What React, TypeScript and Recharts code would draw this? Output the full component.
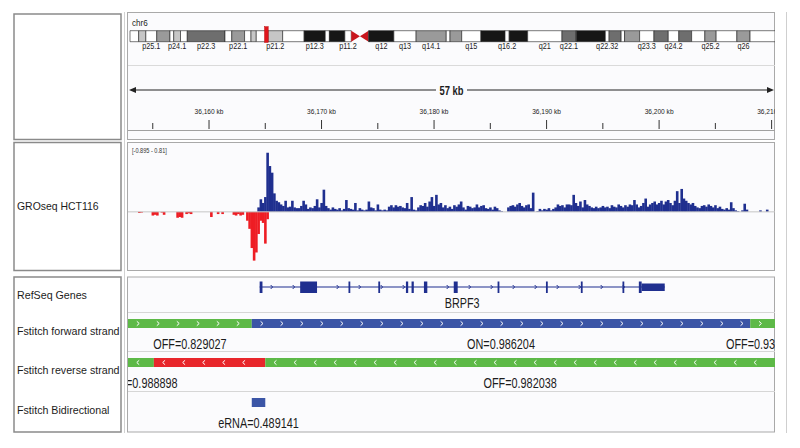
import React from "react"
import {
  ComposedChart,
  BarChart,
  Bar,
  XAxis,
  YAxis,
  ReferenceArea,
  ReferenceLine,
} from "recharts"

const FONT = '"Liberation Sans", Arial, Helvetica, sans-serif'

// ---------- data ----------

// visible window on chr6, in kb
const viewKb: [number, number] = [36152.8, 36210.3]
const rulerTicksKb = [36155, 36160, 36165, 36170, 36175, 36180, 36185, 36190, 36195, 36200, 36205, 36210]
const locusMb: [number, number] = [36.1528, 36.2103]
const chr6LengthMb = 171.115

// chr6 cytobands: name, start Mb, end Mb, stain
const chr6Bands: [string, number, number, string][] = [
  ["p25.3", 0, 2.3, "gneg"], ["p25.2", 2.3, 4.2, "gpos25"], ["p25.1", 4.2, 7.1, "gneg"],
  ["p24.3", 7.1, 10.6, "gpos50"], ["p24.2", 10.6, 11.6, "gneg"], ["p24.1", 11.6, 13.4, "gpos25"],
  ["p23", 13.4, 15.2, "gneg"], ["p22.3", 15.2, 25.2, "gpos75"], ["p22.2", 25.2, 27.0, "gneg"],
  ["p22.1", 27.0, 30.4, "gpos50"], ["p21.33", 30.4, 32.1, "gneg"], ["p21.32", 32.1, 33.5, "gpos25"],
  ["p21.31", 33.5, 36.6, "gneg"], ["p21.2", 36.6, 40.5, "gpos25"], ["p21.1", 40.5, 46.2, "gneg"],
  ["p12.3", 46.2, 51.8, "gpos100"], ["p12.2", 51.8, 52.9, "gneg"], ["p12.1", 52.9, 57.0, "gpos100"],
  ["p11.2", 57.0, 58.7, "gneg"], ["p11.1", 58.7, 61.0, "acen"], ["q11.1", 61.0, 63.3, "acen"],
  ["q11.2", 63.3, 63.4, "gneg"], ["q12", 63.4, 70.0, "gpos100"], ["q13", 70.0, 75.9, "gneg"],
  ["q14.1", 75.9, 83.9, "gpos50"], ["q14.2", 83.9, 84.9, "gneg"], ["q14.3", 84.9, 88.0, "gpos50"],
  ["q15", 88.0, 93.1, "gneg"], ["q16.1", 93.1, 99.5, "gpos100"], ["q16.2", 99.5, 100.6, "gneg"],
  ["q16.3", 100.6, 105.5, "gpos100"], ["q21", 105.5, 114.6, "gneg"], ["q22.1", 114.6, 118.3, "gpos75"],
  ["q22.2", 118.3, 118.5, "gneg"], ["q22.31", 118.5, 126.1, "gpos100"], ["q22.32", 126.1, 127.1, "gneg"],
  ["q22.33", 127.1, 130.3, "gpos75"], ["q23.1", 130.3, 131.2, "gneg"], ["q23.2", 131.2, 135.2, "gpos50"],
  ["q23.3", 135.2, 139.0, "gneg"], ["q24.1", 139.0, 142.8, "gpos75"], ["q24.2", 142.8, 145.6, "gneg"],
  ["q24.3", 145.6, 149.0, "gpos75"], ["q25.1", 149.0, 152.5, "gneg"], ["q25.2", 152.5, 155.5, "gpos50"],
  ["q25.3", 155.5, 161.0, "gneg"], ["q26", 161.0, 164.5, "gpos50"], ["q27", 164.5, 171.115, "gneg"],
]
const bandLabels = [
  "p25.1", "p24.1", "p22.3", "p22.1", "p21.2", "p12.3", "p11.2", "q12", "q13", "q14.1",
  "q15", "q16.2", "q21", "q22.1", "q22.32", "q23.3", "q24.2", "q25.2", "q26",
]

// GROseq HCT116 signal, 0.2 kb bins
const groBinKb = 0.2
const groPlusStartKb = 36164.0
const groPlus = [
  0, 0, 0.06, 0.17, 0.12, 0.2, 0.8, 0.62, 0.53, 0.25,
  0.15, 0.13, 0.1, 0.08, 0.15, 0.06, 0.07, 0.15, 0.06, 0.05,
  0.05, 0.08, 0.15, 0.1, 0.04, 0.06, 0.05, 0.08, 0.17, 0.06,
  0.12, 0.3, 0.08, 0.05, 0.03, 0.06, 0.04, 0.03, 0.05, 0.02,
  0.04, 0.16, 0.05, 0.04, 0.03, 0.12, 0.02, 0.05, 0.03, 0.02,
  0.03, 0.14, 0.06, 0.05, 0.02, 0.1, 0.03, 0.02, 0.03, 0.02,
  0.07, 0.09, 0.06, 0.09, 0.07, 0.08, 0.06, 0.05, 0.12, 0.04,
  0.2, 0.03, 0.02, 0.06, 0.09, 0.08, 0.12, 0.07, 0.14, 0.2,
  0.08, 0.23, 0.1, 0.12, 0.06, 0.09, 0.05, 0.07, 0.04, 0.09,
  0.07, 0.1, 0.14, 0.06, 0.03, 0.08, 0.07, 0.05, 0.06, 0.1,
  0.06, 0.08, 0.09, 0.05, 0.04, 0.06, 0.03, 0.07, 0.05, 0.02,
  0.01, 0, 0, 0.06, 0.08, 0.09, 0.07, 0.1, 0.12, 0.08,
  0.06, 0.09, 0.1, 0.05, 0.26, 0, 0.01, 0.04, 0.02, 0.04,
  0.03, 0.05, 0.02, 0.04, 0.06, 0.1, 0.08, 0.09, 0.06, 0.1,
  0.1, 0.09, 0.23, 0.12, 0.08, 0.14, 0.06, 0.16, 0.1, 0.08,
  0.06, 0.05, 0.07, 0.05, 0.06, 0.08, 0.06, 0.07, 0.05, 0.09,
  0.07, 0.06, 0.1, 0.08, 0.06, 0.09, 0.07, 0.1, 0.09, 0.16,
  0.1, 0.06, 0.08, 0.12, 0.18, 0.07, 0.1, 0.12, 0.14, 0.1,
  0.12, 0.15, 0.1, 0.14, 0.16, 0.12, 0.09, 0.15, 0.28, 0.12,
  0.31, 0.18, 0.15, 0.12, 0.1, 0.12, 0.08, 0.06, 0.05, 0.08,
  0.09, 0.07, 0.1, 0.08, 0.06, 0.09, 0.05, 0.07, 0.04, 0.03,
  0.05, 0.03, 0.13, 0.05, 0.02, 0.01, 0, 0.02, 0.11, 0.03,
  0, 0, 0, 0, 0, 0.02, 0, 0, 0.03, 0,
]
const groMinusStartKb = 36153.0
const groMinus = [
  0, 0, 0, 0, -0.015, -0.01, 0, 0, 0, 0,
  -0.05, -0.04, -0.05, 0, -0.01, -0.04, 0, 0, 0, 0,
  0, -0.08, -0.07, -0.08, 0, -0.03, -0.02, -0.03, 0, 0,
  0, 0, 0, 0, 0, 0, -0.07, 0, 0, -0.03,
  0, -0.03, 0, 0, 0, 0, -0.04, -0.05, -0.03, -0.05,
  -0.04, 0, -0.12, -0.23, -0.49, -0.66, -0.55, -0.3, -0.12, -0.15,
  -0.43, -0.1,
]
const groRangeLabel = "[-0.895 - 0.81]"
const groDomain: [number, number] = [-0.76, 0.81]

// RefSeq BRPF3 (kb)
const brpf3Name = "BRPF3"
const brpf3Span: [number, number] = [36164.5, 36200.5]
const brpf3Exons: [number, number, "utr" | "cds"][] = [
  [36164.5, 36164.75, "cds"], [36168.1, 36169.6, "cds"], [36172.4, 36172.55, "cds"],
  [36175.05, 36175.2, "cds"], [36177.5, 36177.7, "cds"], [36178.0, 36178.2, "cds"],
  [36179.1, 36179.4, "cds"], [36181.75, 36182.1, "cds"], [36185.65, 36185.8, "cds"],
  [36189.95, 36190.1, "cds"], [36193.05, 36193.2, "cds"], [36196.75, 36196.9, "cds"],
  [36198.2, 36198.45, "cds"], [36198.45, 36200.5, "utr"],
]

// Fstitch segments: start kb, end kb, state, label
const fwdSegments: [number, number, string, string][] = [
  [36148.0, 36163.8, "OFF", "OFF=0.829027"],
  [36163.8, 36208.1, "ON", "ON=0.986204"],
  [36208.1, 36213.0, "OFF", "OFF=0.933217"],
]
const revSegments: [number, number, string, string][] = [
  [36149.0, 36155.1, "OFF", "OFF=0.988898"],
  [36155.1, 36165.0, "ON", ""],
  [36165.0, 36214.0, "OFF", "OFF=0.982038"],
]
const bidirSegments: [number, number, string, string][] = [
  [36163.8, 36165.0, "eRNA", "eRNA=0.489141"],
]

const trackNames = ["RefSeq Genes", "Fstitch forward strand", "Fstitch reverse strand", "Fstitch Bidirectional"]

// ---------- style ----------

const DATA_X = 128
const DATA_W = 647
const stainFill: Record<string, string> = {
  gneg: "#ffffff", gpos25: "#c6c6c6", gpos50: "#9a9a9a", gpos75: "#6e6e6e", gpos100: "#161616", acen: "#c8161d",
}
const NAVY = "#1f2f8f"
const GRO_RED = "#ee1d24"
const FS_GREEN = "#5db947"
const FS_BLUE = "#3b55a6"
const FS_RED = "#e8262b"
const TXT = "#1c1c1c"
const GRO_BAR_W = 2.6

// row layout inside the feature panel (px from its top)
const GENE_Y = 10
const FWD_Y = 42
const REV_Y = 81
const BIDIR_Y = 121
const SEG_H = 9
const SEG_LABEL_DY = 29.5

// ---------- helpers ----------

let measureCtx: CanvasRenderingContext2D | null = null
function textWidth(s: string, size: number, weight = "normal") {
  if (!measureCtx) measureCtx = document.createElement("canvas").getContext("2d")
  if (!measureCtx) return s.length * size * 0.55
  measureCtx.font = `${weight} ${size}px ${FONT}`
  return measureCtx.measureText(s).width
}

function Label(props: {
  x: number; y: number; text: string; size: number; squeeze?: number
  anchor?: "start" | "middle" | "end"; weight?: string; fill?: string
}) {
  const { x, y, text, size, squeeze = 1, anchor = "start", weight = "normal", fill = TXT } = props
  if (!text) return null
  return (
    <text
      x={x} y={y} fontFamily={FONT} fontSize={size} fontWeight={weight} fill={fill}
      textAnchor={anchor} textLength={textWidth(text, size, weight) * squeeze} lengthAdjust="spacingAndGlyphs"
    >
      {text}
    </text>
  )
}

const fmtKb = (v: number) => `${v.toLocaleString("en-US")} kb`

const groRows = (() => {
  const m = new Map<number, { kb: number; plus: number; minus: number }>()
  const get = (kb: number) => {
    const k = Math.round(kb * 10) / 10
    if (!m.has(k)) m.set(k, { kb: k, plus: 0, minus: 0 })
    return m.get(k)!
  }
  groPlus.forEach((v, i) => { get(groPlusStartKb + i * groBinKb).plus = v })
  groMinus.forEach((v, i) => { get(groMinusStartKb + i * groBinKb).minus = v })
  return [...m.values()].sort((a, b) => a.kb - b.kb)
})()

// bar drawn at a fixed pixel width around the centre the library computed
const groBar = (fill: string) => (p: any) => {
  const h = Number(p.height) || 0
  if (!h) return <g />
  const y = Math.min(p.y, p.y + h)
  const cx = p.x + p.width / 2
  return <rect x={cx - GRO_BAR_W / 2} y={y} width={GRO_BAR_W} height={Math.abs(h)} fill={fill} />
}

// ---------- pieces ----------

function Frame() {
  const panels = [
    [14, 139.5],
    [142.5, 270.5],
    [277, 432],
  ]
  return (
    <svg width={800} height={448} style={{ position: "absolute", left: 0, top: 0 }}>
      {panels.map(([t, b], i) => (
        <g key={i}>
          <rect x={14} y={t} width={107} height={b - t} fill="#ffffff" stroke="#8a8a8a" strokeWidth={1.5} />
          <rect x={127.5} y={i === 0 ? 12.5 : t} width={647} height={b - (i === 0 ? 12.5 : t)} fill="#fbfbfd" stroke="#a9a9a9" strokeWidth={1} />
        </g>
      ))}
      <line x1={124.5} x2={124.5} y1={12} y2={433} stroke="#d2d2d2" />
      <line x1={786.5} x2={786.5} y1={12} y2={433} stroke="#cfcfcf" />
      <line x1={128} x2={775} y1={65.5} y2={65.5} stroke="#dadada" />
      <line x1={128} x2={775} y1={130.5} y2={130.5} stroke="#a0a0a0" />
      {[312.5, 351.5, 391.5].map((y) => (
        <line key={y} x1={128} x2={775} y1={y} y2={y} stroke="#d6d6d6" />
      ))}

      {/* span arrow */}
      <line x1={134} x2={436} y1={90} y2={90} stroke="#222" strokeWidth={1.2} />
      <line x1={467} x2={769} y1={90} y2={90} stroke="#222" strokeWidth={1.2} />
      <path d="M129,90 L136,87 L136,93 Z" fill="#222" />
      <path d="M774,90 L767,87 L767,93 Z" fill="#222" />
      <Label x={451.5} y={94.5} text={`${Math.floor(viewKb[1] - viewKb[0])} kb`} size={12.5} weight="bold" squeeze={0.75} anchor="middle" />

      <Label x={132} y={26} text="chr6" size={9} squeeze={0.9} />
      <Label x={132} y={153} text={groRangeLabel} size={6.5} squeeze={0.86} fill="#333" />

      <Label x={17} y={210} text="GROseq HCT116" size={11.6} squeeze={0.9} />
      {trackNames.map((n, i) => (
        <Label key={n} x={17} y={[299, 335, 374, 414][i]} text={n} size={11.6} squeeze={0.92} />
      ))}
    </svg>
  )
}

function Ideogram() {
  const centers = bandLabels.map((n) => {
    const b = chr6Bands.find((d) => d[0] === n)!
    return { v: (b[1] + b[2]) / 2, n }
  })
  const nameAt = (v: number) => centers.find((c) => Math.abs(c.v - v) < 1e-6)?.n ?? ""
  const acenShape = (left: boolean) => (p: any) => {
    const { x, y, width: w, height: h } = p
    const pts = left
      ? `${x},${y} ${x + w},${y + h / 2} ${x},${y + h}`
      : `${x + w},${y} ${x},${y + h / 2} ${x + w},${y + h}`
    return <polygon points={pts} fill={stainFill.acen} />
  }
  const locusShape = (p: any) => {
    const w = Math.max(p.width, 3.6)
    const cx = p.x + p.width / 2
    return <rect x={cx - w / 2} y={p.y} width={w} height={p.height} fill="#e0161d" stroke="#b00" strokeWidth={0.5} />
  }
  return (
    <div style={{ position: "absolute", left: DATA_X, top: 20, width: DATA_W, height: 40 }}>
      <ComposedChart width={DATA_W} height={40} data={centers} margin={{ top: 10.7, right: 0, bottom: 0, left: 2 }}>
        <XAxis
          type="number" dataKey="v" domain={[0, chr6LengthMb]} allowDataOverflow
          ticks={centers.map((c) => c.v)} interval={0} height={18.3}
          axisLine={false} tickLine={false} tickSize={0} tickMargin={0}
          tick={(p: any) => (
            <Label x={p.x} y={p.y + 7.3} text={nameAt(p.payload.value)} size={9.3} squeeze={0.78} anchor="middle" />
          )}
        />
        <YAxis type="number" domain={[0, 1]} allowDataOverflow hide />
        {chr6Bands.map(([name, s, e, stain]) =>
          stain === "acen" ? (
            <ReferenceArea key={name} x1={s} x2={e} y1={0} y2={1} ifOverflow="visible" shape={acenShape(name.startsWith("p"))} />
          ) : (
            <ReferenceArea
              key={name} x1={s} x2={e} y1={0} y2={1} ifOverflow="visible"
              fill={stainFill[stain]} fillOpacity={1} stroke="#222" strokeWidth={0.6}
            />
          )
        )}
        <ReferenceArea x1={locusMb[0]} x2={locusMb[1]} y1={-0.06} y2={1.36} ifOverflow="visible" shape={locusShape} />
      </ComposedChart>
    </div>
  )
}

function Ruler() {
  return (
    <div style={{ position: "absolute", left: DATA_X, top: 90, width: DATA_W, height: 50, overflow: "hidden" }}>
      <ComposedChart width={DATA_W} height={50} data={rulerTicksKb.map((kb) => ({ kb }))} margin={{ top: 0, right: 0, bottom: 0, left: 0 }}>
        <XAxis
          type="number" dataKey="kb" domain={viewKb} allowDataOverflow ticks={rulerTicksKb} interval={0}
          height={11} axisLine={false} tickLine={false} tickSize={0} tickMargin={0}
          tick={(p: any) => {
            const v = p.payload.value as number
            const major = v % 10 === 0
            return (
              <g>
                <line x1={p.x} x2={p.x} y1={p.y - (major ? 9 : 6)} y2={p.y} stroke="#333" strokeWidth={1} />
                {major && <Label x={p.x} y={p.y - 15} text={fmtKb(v)} size={7} squeeze={0.94} anchor="middle" />}
              </g>
            )
          }}
        />
      </ComposedChart>
    </div>
  )
}

function GroTrack() {
  return (
    <div style={{ position: "absolute", left: DATA_X, top: 143, width: DATA_W, height: 127, overflow: "hidden" }}>
      <BarChart width={DATA_W} height={127} data={groRows} stackOffset="sign" margin={{ top: 9, right: 0, bottom: 2, left: 0 }}>
        <XAxis type="number" dataKey="kb" domain={viewKb} allowDataOverflow hide />
        <YAxis type="number" domain={groDomain} allowDataOverflow hide />
        <ReferenceLine y={0} stroke="#c6c6c6" />
        <Bar dataKey="plus" stackId="g" fill={NAVY} shape={groBar(NAVY)} isAnimationActive={false} />
        <Bar dataKey="minus" stackId="g" fill={GRO_RED} shape={groBar(GRO_RED)} isAnimationActive={false} />
      </BarChart>
    </div>
  )
}

function segmentShape(label: string, fill: string, dir: 1 | -1) {
  return (p: any) => {
    const { x, y, width, height } = p
    const x0 = Math.max(x, 0)
    const x1 = Math.min(x + width, DATA_W)
    const cy = y + height / 2
    const marks: React.ReactNode[] = []
    if (x1 - x0 >= 20) {
      for (let cx = x0 + 10; cx < x1 - 3; cx += 20) {
        const d = dir > 0
          ? `M${cx - 1.2},${cy - 2.2}L${cx + 1.2},${cy}L${cx - 1.2},${cy + 2.2}`
          : `M${cx + 1.2},${cy - 2.2}L${cx - 1.2},${cy}L${cx + 1.2},${cy + 2.2}`
        marks.push(<path key={cx} d={d} stroke="#ffffff" strokeWidth={1} fill="none" />)
      }
    }
    return (
      <g>
        <rect x={x} y={y} width={width} height={height} fill={fill} />
        {marks}
        <Label x={(x0 + x1) / 2} y={y + SEG_LABEL_DY} text={label} size={15.5} squeeze={0.7} anchor="middle" />
      </g>
    )
  }
}

function FeatureTracks() {
  const H = 155
  const intronShape = (p: any) => {
    const { x, y, width, height } = p
    const cy = y + height / 2
    const marks: React.ReactNode[] = []
    for (let cx = x + 12; cx < x + width - 4; cx += 22) {
      marks.push(
        <path key={cx} d={`M${cx - 1},${cy - 2}L${cx + 1},${cy}L${cx - 1},${cy + 2}`} stroke={NAVY} strokeWidth={1} fill="none" />
      )
    }
    return (
      <g>
        <line x1={x} x2={x + width} y1={cy} y2={cy} stroke={NAVY} strokeWidth={1.2} />
        {marks}
        <Label x={x + width / 2} y={cy + 21} text={brpf3Name} size={15} squeeze={0.72} anchor="middle" />
      </g>
    )
  }
  const exonShape = (p: any) => {
    const w = Math.max(p.width, 1.8)
    const cx = p.x + p.width / 2
    return <rect x={cx - w / 2} y={p.y} width={w} height={p.height} fill={NAVY} />
  }
  const tracks: [typeof fwdSegments, number, 1 | -1, Record<string, string>][] = [
    [fwdSegments, FWD_Y, 1, { ON: FS_BLUE, OFF: FS_GREEN }],
    [revSegments, REV_Y, -1, { ON: FS_RED, OFF: FS_GREEN }],
    [bidirSegments, BIDIR_Y, 1, { eRNA: FS_BLUE }],
  ]
  return (
    <div style={{ position: "absolute", left: DATA_X, top: 277, width: DATA_W, height: H, overflow: "hidden" }}>
      <ComposedChart width={DATA_W} height={H} data={brpf3Exons.map(([s]) => ({ s }))} margin={{ top: 0, right: 0, bottom: 0, left: 0 }}>
        <XAxis type="number" dataKey="s" domain={viewKb} allowDataOverflow hide />
        <YAxis type="number" domain={[0, H]} allowDataOverflow reversed hide />
        <ReferenceArea x1={brpf3Span[0]} x2={brpf3Span[1]} y1={GENE_Y - 0.5} y2={GENE_Y + 0.5} ifOverflow="visible" shape={intronShape} />
        {brpf3Exons.map(([s, e, kind], i) => (
          <ReferenceArea
            key={`ex${i}`} x1={s} x2={e}
            y1={kind === "cds" ? GENE_Y - 5.5 : GENE_Y - 3.5} y2={kind === "cds" ? GENE_Y + 6 : GENE_Y + 4}
            ifOverflow="visible" shape={exonShape}
          />
        ))}
        {tracks.map(([segs, top, dir, colors], t) =>
          segs.map(([s, e, state, label], i) => (
            <ReferenceArea
              key={`s${t}-${i}`} x1={s} x2={e} y1={top} y2={top + SEG_H} ifOverflow="visible"
              shape={segmentShape(label, colors[state], dir)}
            />
          ))
        )}
      </ComposedChart>
    </div>
  )
}

export default function App() {
  return (
    <div style={{ position: "absolute", left: 0, top: 0, width: 800, height: 448, background: "#ffffff", overflow: "hidden" }}>
      <Frame />
      <Ideogram />
      <Ruler />
      <GroTrack />
      <FeatureTracks />
    </div>
  )
}
